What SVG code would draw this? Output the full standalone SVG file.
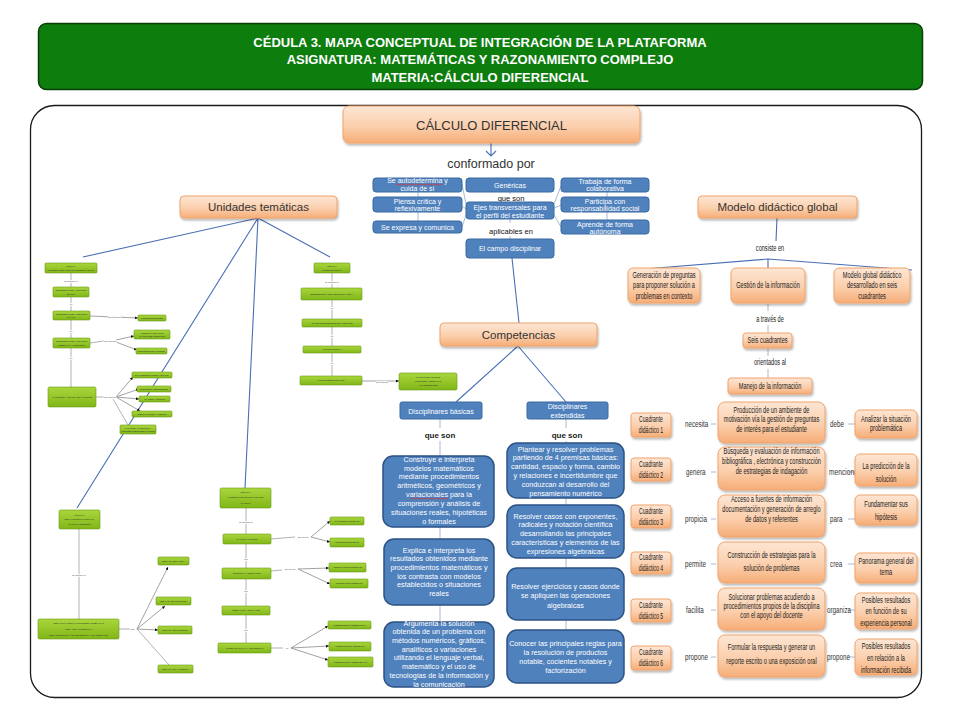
<svg xmlns="http://www.w3.org/2000/svg" width="960" height="720" viewBox="0 0 960 720">
<defs>
<linearGradient id="og" x1="0" y1="0" x2="0" y2="1"><stop offset="0" stop-color="#fde6d4"/><stop offset="0.55" stop-color="#fbcfad"/><stop offset="1" stop-color="#f6ad77"/></linearGradient>
<linearGradient id="gg" x1="0" y1="0" x2="0" y2="1"><stop offset="0" stop-color="#a9d63c"/><stop offset="1" stop-color="#80b618"/></linearGradient>
<filter id="sh" x="-10%" y="-15%" width="125%" height="150%"><feDropShadow dx="1" dy="2" stdDeviation="1.2" flood-color="#000" flood-opacity="0.28"/></filter>
<marker id="ah" viewBox="0 0 6 6" refX="6" refY="3" markerWidth="3" markerHeight="3" markerUnits="userSpaceOnUse" orient="auto"><path d="M0,0 L6,3 L0,6 z" fill="#111"/></marker>
<style>
.hd{font-family:"Liberation Sans",Arial,sans-serif;font-weight:bold;font-size:13px;fill:#fff;text-anchor:middle}
.ob{fill:url(#og);stroke:#f0a36b;stroke-width:1;filter:url(#sh)}
.ot{font-family:"Liberation Sans",Arial,sans-serif;fill:#333;text-anchor:middle}
.bs{fill:#4f81bd;stroke:#3b6aa0;stroke-width:1}
.bt{font-family:"Liberation Sans",Arial,sans-serif;fill:#fff;font-size:7px;text-anchor:middle}
.bl{fill:#4f81bd;stroke:#2c5286;stroke-width:1.5}
.b2{font-size:7.2px}
.gb{fill:url(#gg);stroke:#6a9a16;stroke-width:0.6}
.gt{font-family:"Liberation Sans",Arial,sans-serif;font-size:2px;fill:#2a2a2a;text-anchor:middle}
.tl{stroke:#a0a0a0;stroke-width:0.8;fill:none}
.ta{stroke:#8a8a8a;stroke-width:0.8;fill:none;marker-end:url(#ah)}
.ll{font-family:"Liberation Sans",Arial,sans-serif;font-size:2.3px;fill:#444;text-anchor:middle;stroke:#fff;stroke-width:1.4px;paint-order:stroke}
.cl{stroke:#4a6fb5;stroke-width:1.1;fill:none}
.gl{stroke:#a2b2cc;stroke-width:0.9;fill:none}
.rt{font-family:"Liberation Sans",Arial,sans-serif;font-size:8.5px;fill:#222;text-anchor:middle}
.ct{font-family:"Liberation Sans",Arial,sans-serif;font-size:8.5px;fill:#222;text-anchor:middle}
.rl{font-family:"Liberation Sans",Arial,sans-serif;font-size:9.5px;fill:#333}
.bk{font-family:"Liberation Sans",Arial,sans-serif;font-size:8px;font-weight:bold;fill:#222;text-anchor:middle}
.sm{font-family:"Liberation Sans",Arial,sans-serif;font-size:7.5px;fill:#111;text-anchor:middle}
.rd{stroke:#e03030;stroke-width:0.7;fill:none}
</style>
</defs>
<rect width="960" height="720" fill="#fff"/>

<g id="header">
<rect x="38.5" y="23.5" width="884" height="66" rx="8" fill="#0d7d0d" stroke="#0a3f0a" stroke-width="1.5"/>
<text class="hd" x="480" y="47">CÉDULA 3. MAPA CONCEPTUAL DE INTEGRACIÓN DE LA PLATAFORMA</text>
<text class="hd" x="480" y="64">ASIGNATURA: MATEMÁTICAS Y RAZONAMIENTO COMPLEJO</text>
<text class="hd" x="480" y="82">MATERIA:CÁLCULO DIFERENCIAL</text>
</g>

<rect id="frame" x="30.5" y="105.5" width="891" height="592" rx="24" fill="#fff" stroke="#1a1a1a" stroke-width="1.3"/>

<g id="connectors">
<path class="cl" d="M491,143 V156 M486,151 L491,156 L496,151"/>
<path class="cl" d="M258,218 L83,257 M258,218 L77,508 M258,218 L245,488 M258,218 L330,257"/>
<path class="gl" d="M418,192 V197 M418,212 V221 M607,192 V197 M607,212 V220 M510,192 V194 M510,219 V223 M510,236 V239"/>
<path class="gl" d="M462,184 L466,204 M462,206 L466,209 M462,227 L466,215 M561,186 L554,204 M561,205 L554,208 M561,227 L554,215"/>
<path class="cl" d="M512,258 L519,323"/>
<path class="cl" d="M518,346 L456,402 M518,346 L566,402"/>
<path class="gl" d="M440,419 V428 M440,441 V456 M440,527 V539 M440,605 V622 M566,419 V428 M566,441 V443 M566,498 V505 M566,558 V568 M566,620 V630"/>
<path class="cl" d="M777,218 L776,241 M768,259 L632,270 M768,259 L912,270 M768,259 V268"/>
<path class="gl" d="M768,302 V311 M768,325 V333 M768,348 V356 M768,369 V378"/>
<path class="gl" d="M711,424 H716 M711,472 H716 M711,519 H716 M711,564 H716 M711,610 H716 M711,657 H716 M848,424 H855 M848,472 H855 M848,519 H855 M848,564 H855 M848,610 H855 M848,657 H855"/>
<path class="tl" d="M71,273 V287 M71,297 V311 M71,320 V338 M71,348 V387"/>
<path class="ta" d="M90,316 L138,318"/>
<path class="tl" d="M90,343 L104,341"/>
<path class="ta" d="M116,340 L134,336"/>
<path class="ta" d="M116,342 L137,350"/>
<path class="tl" d="M96,397 L104,397"/>
<path class="ta" d="M116,397 L133,377"/>
<path class="ta" d="M116,397 L139,389"/>
<path class="ta" d="M116,397 L139,399"/>
<path class="ta" d="M116,397 L140,411"/>
<path class="tl" d="M113,399 L128,425"/>
<path class="tl" d="M79,529 V619 M119,629 H130"/>
<path class="ta" d="M137,629 L168,567"/>
<path class="ta" d="M137,629 L165,606"/>
<path class="ta" d="M137,629 L158,630"/>
<path class="tl" d="M137,629 L170,666"/>
<path class="tl" d="M246,508 V534 M246,544 V568 M246,579 V606 M246,615 V643 M271,539 L295,537 M271,571 L282,570 M271,648 L283,648"/>
<path class="ta" d="M311,537 L330,521"/>
<path class="ta" d="M311,537 L330,542"/>
<path class="ta" d="M298,569 L329,568"/>
<path class="ta" d="M298,569 L330,584"/>
<path class="ta" d="M291,648 L328,626"/>
<path class="ta" d="M291,648 L329,646"/>
<path class="ta" d="M291,648 L328,660"/>
<path class="tl" d="M332,273 V288 M332,300 V319 M332,327 V346 M332,353 V376"/>
<path class="ta" d="M362,381 L399,381"/>
</g>

<g id="calculo"><rect class="ob" x="343" y="106" width="297" height="37" rx="6"/><text class="ot" x="491.5" y="129.5" font-size="13">CÁLCULO DIFERENCIAL</text></g>
<text id="conformado" class="ot" x="491" y="167.5" font-size="12.5" fill="#222">conformado por</text>

<g id="autodetermina"><rect class="bs" x="373" y="178" width="89" height="14" rx="3"/><text class="bt" x="417.5" y="183">Se autodetermina y</text><text class="bt" x="417.5" y="190.5">cuida de sí</text><path class="rd" d="M396,184.6 q1,-1 2,0 t2,0 t2,0 t2,0 t2,0 t2,0 t2,0 t2,0 t2,0 t2,0 t2,0 t2,0 t2,0 t2,0 t2,0 t2,0 t2,0 t2,0 t2,0 t2,0 t2,0 t2,0 t2,0"/></g>
<g id="genericas"><rect class="bs" x="466" y="178" width="88" height="14" rx="3"/><text class="bt" x="510" y="187.5">Genéricas</text></g>
<g id="trabaja"><rect class="bs" x="561" y="178" width="88" height="14" rx="3"/><text class="bt" x="605" y="183.5">Trabaja de forma</text><text class="bt" x="605" y="191">colaborativa</text></g>
<g id="piensa"><rect class="bs" x="373" y="197" width="89" height="15" rx="3"/><text class="bt" x="417.5" y="203.5">Piensa crítica y</text><text class="bt" x="417.5" y="211">reflexivamente</text></g>
<text class="sm" x="511" y="200.5">que son</text>
<g id="ejes"><rect class="bs" x="466" y="202" width="88" height="17" rx="3"/><text class="bt" x="510" y="210">Ejes transversales para</text><text class="bt" x="510" y="218">el perfil del estudiante</text></g>
<g id="participa"><rect class="bs" x="561" y="197" width="88" height="15" rx="3"/><text class="bt" x="605" y="203.5">Participa con</text><text class="bt" x="605" y="211">responsabilidad social</text></g>
<g id="expresa"><rect class="bs" x="373" y="221" width="89" height="12" rx="3"/><text class="bt" x="417.5" y="229.5">Se expresa y comunica</text></g>
<g id="aprende"><rect class="bs" x="561" y="220" width="88" height="14" rx="3"/><text class="bt" x="605" y="226.5">Aprende de forma</text><text class="bt" x="605" y="234">autónoma</text></g>
<text class="sm" x="511" y="233.5">aplicables en</text>
<g id="campo"><rect class="bs" x="466" y="239" width="88" height="19" rx="3"/><text class="bt" x="510" y="251">El campo disciplinar</text></g>

<g id="unidades"><rect class="ob" x="180" y="196" width="157" height="22" rx="4"/><text class="ot" x="258.5" y="211" font-size="11.5">Unidades temáticas</text></g>
<g id="modelo"><rect class="ob" x="698" y="196" width="159" height="22" rx="4"/><text class="ot" x="777.5" y="211" font-size="11.5">Modelo didáctico global</text></g>
<g id="competencias"><rect class="ob" x="440" y="323" width="157" height="23" rx="4"/><text class="ot" x="518.5" y="338.5" font-size="11.5">Competencias</text></g>

<g id="basicas"><rect class="bs" x="400" y="402" width="82" height="17" rx="2"/><text class="bt" x="441" y="413.5">Disciplinares básicas</text></g>
<g id="extendidas"><rect class="bs" x="527" y="402" width="81" height="17" rx="2"/><text class="bt" x="567.5" y="409">Disciplinares</text><text class="bt" x="567.5" y="417.5">extendidas</text></g>
<text class="bk" x="440" y="437.5">que son</text>
<text class="bk" x="567" y="437.5">que son</text>

<g id="construye"><rect class="bl" x="383" y="456" width="111" height="71" rx="10"/>
<text class="bt b2" x="439" y="461.6">Construye e interpreta</text><text class="bt b2" x="439" y="470.5">modelos matemáticos</text><text class="bt b2" x="439" y="479.3">mediante procedimientos</text><text class="bt b2" x="439" y="488.2">aritméticos, geométricos y</text><text class="bt b2" x="439" y="497">variacionales para la</text><text class="bt b2" x="439" y="505.9">comprensión y análisis de</text><text class="bt b2" x="439" y="514.7">situaciones reales, hipotéticas</text><text class="bt b2" x="439" y="523.6">o formales</text>
<path class="rd" d="M410,498.6 q1,-1 2,0 t2,0 t2,0 t2,0 t2,0 t2,0 t2,0 t2,0 t2,0 t2,0 t2,0 t2,0 t2,0 t2,0 t2,0 t2,0 t2,0 t2,0 t2,0"/></g>
<g id="explica"><rect class="bl" x="384" y="539" width="110" height="66" rx="10"/>
<text class="bt b2" x="439" y="552.6">Explica e interpreta los</text><text class="bt b2" x="439" y="561.3">resultados obtenidos mediante</text><text class="bt b2" x="439" y="570">procedimientos matemáticos y</text><text class="bt b2" x="439" y="578.7">los contrasta con modelos</text><text class="bt b2" x="439" y="587.4">establecidos o situaciones</text><text class="bt b2" x="439" y="596.1">reales</text></g>
<g id="argumenta"><rect class="bl" x="384" y="622" width="110" height="65" rx="10"/>
<text class="bt b2" x="439" y="625.6">Argumenta la solución</text><text class="bt b2" x="439" y="634.3">obtenida de un problema con</text><text class="bt b2" x="439" y="643">métodos numéricos, gráficos,</text><text class="bt b2" x="439" y="651.7">analíticos o variaciones</text><text class="bt b2" x="439" y="660.4">utilizando el lenguaje verbal,</text><text class="bt b2" x="439" y="669.1">matemático y el uso de</text><text class="bt b2" x="439" y="677.8">tecnologías de la información y</text><text class="bt b2" x="439" y="686.5">la comunicación</text></g>
<g id="plantear"><rect class="bl" x="507" y="443" width="117" height="55" rx="10"/>
<text class="bt b2" x="565.5" y="451.6">Plantear y resolver problemas</text><text class="bt b2" x="565.5" y="460.4">partiendo de 4 premisas básicas:</text><text class="bt b2" x="565.5" y="469.2">cantidad, espacio y forma, cambio</text><text class="bt b2" x="565.5" y="478">y relaciones e incertidumbre que</text><text class="bt b2" x="565.5" y="486.8">conduzcan al desarrollo del</text><text class="bt b2" x="565.5" y="495.6">pensamiento numérico</text></g>
<g id="resolver1"><rect class="bl" x="507" y="505" width="117" height="53" rx="10"/>
<text class="bt b2" x="565.5" y="518.6">Resolver casos con exponentes,</text><text class="bt b2" x="565.5" y="527.4">radicales y notación científica</text><text class="bt b2" x="565.5" y="536.1">desarrollando las principales</text><text class="bt b2" x="565.5" y="544.9">características y elementos de las</text><text class="bt b2" x="565.5" y="553.6">expresiones algebraicas</text></g>
<g id="resolver2"><rect class="bl" x="507" y="568" width="117" height="52" rx="10"/>
<text class="bt b2" x="565.5" y="588.6">Resolver ejercicios y casos donde</text><text class="bt b2" x="565.5" y="598.1">se apliquen las operaciones</text><text class="bt b2" x="565.5" y="607.6">algebraicas</text></g>
<g id="conocer"><rect class="bl" x="507" y="630" width="117" height="53" rx="10"/>
<text class="bt b2" x="565.5" y="645.6">Conocer las principales reglas para</text><text class="bt b2" x="565.5" y="654.6">la resolución de productos</text><text class="bt b2" x="565.5" y="663.6">notable, cocientes notables y</text><text class="bt b2" x="565.5" y="672.6">factorización</text></g>

<g id="model-right">
<g transform="translate(770 0) scale(0.66 1)"><text class="rt" x="0" y="251" font-size="10">consiste en</text><text class="rt" x="0" y="322" font-size="10">a través de</text><text class="rt" x="0" y="365" font-size="10">orientados al</text></g>
<g id="generacion"><rect class="ob" x="628" y="268" width="72" height="35" rx="5"/><g transform="translate(664 0) scale(0.66 1)"><text class="rt" x="0" y="278">Generación de preguntas</text><text class="rt" x="0" y="288.5">para proponer solución a</text><text class="rt" x="0" y="299">problemas en contexto</text></g></g>
<g id="gestion"><rect class="ob" x="731" y="268" width="74" height="35" rx="5"/><g transform="translate(768 0) scale(0.66 1)"><text class="rt" x="0" y="288.5">Gestión de la información</text></g></g>
<g id="modeloglobal"><rect class="ob" x="834" y="268" width="76" height="35" rx="5"/><g transform="translate(872 0) scale(0.66 1)"><text class="rt" x="0" y="278">Modelo global didáctico</text><text class="rt" x="0" y="288.5">desarrollado en seis</text><text class="rt" x="0" y="299">cuadrantes</text></g></g>
<g id="seis"><rect class="ob" x="743" y="333" width="49" height="15" rx="3"/><g transform="translate(767.5 0) scale(0.66 1)"><text class="rt" x="0" y="343.5">Seis cuadrantes</text></g></g>
<g id="manejo"><rect class="ob" x="728" y="378" width="84" height="16" rx="3"/><g transform="translate(770 0) scale(0.66 1)"><text class="rt" x="0" y="389">Manejo de la información</text></g></g>
</g>

<g id="cuadrantes">
<g id="c1"><rect class="ob" x="631" y="413" width="40" height="24" rx="3"/><g transform="translate(651 0) scale(0.6 1)"><text class="ct" x="0" y="422.5">Cuadrante</text><text class="ct" x="0" y="433.5">didáctico 1</text></g></g>
<g id="c2"><rect class="ob" x="631" y="458" width="40" height="23" rx="3"/><g transform="translate(651 0) scale(0.6 1)"><text class="ct" x="0" y="467">Cuadrante</text><text class="ct" x="0" y="478">didáctico 2</text></g></g>
<g id="c3"><rect class="ob" x="631" y="505" width="40" height="23" rx="3"/><g transform="translate(651 0) scale(0.6 1)"><text class="ct" x="0" y="514">Cuadrante</text><text class="ct" x="0" y="525">didáctico 3</text></g></g>
<g id="c4"><rect class="ob" x="631" y="552" width="40" height="22" rx="3"/><g transform="translate(651 0) scale(0.6 1)"><text class="ct" x="0" y="560.5">Cuadrante</text><text class="ct" x="0" y="571.5">didáctico 4</text></g></g>
<g id="c5"><rect class="ob" x="631" y="599" width="40" height="23" rx="3"/><g transform="translate(651 0) scale(0.6 1)"><text class="ct" x="0" y="608">Cuadrante</text><text class="ct" x="0" y="619">didáctico 5</text></g></g>
<g id="c6"><rect class="ob" x="631" y="646" width="40" height="24" rx="3"/><g transform="translate(651 0) scale(0.6 1)"><text class="ct" x="0" y="655.5">Cuadrante</text><text class="ct" x="0" y="666.5">didáctico 6</text></g></g>

<text class="rl" transform="translate(685 427) scale(0.66 1)">necesita</text>
<text class="rl" transform="translate(686 475) scale(0.66 1)">genera</text>
<text class="rl" transform="translate(685 522) scale(0.66 1)">propicia</text>
<text class="rl" transform="translate(685 567) scale(0.66 1)">permite</text>
<text class="rl" transform="translate(686 613) scale(0.66 1)">facilita</text>
<text class="rl" transform="translate(685 660) scale(0.66 1)">propone</text>
<text class="rl" transform="translate(830 427) scale(0.66 1)">debe</text>
<text class="rl" transform="translate(829 475) scale(0.7 1)">menciona</text>
<text class="rl" transform="translate(830 522) scale(0.66 1)">para</text>
<text class="rl" transform="translate(830 567) scale(0.66 1)">crea</text>
<text class="rl" transform="translate(827 613) scale(0.66 1)">organiza</text>
<text class="rl" transform="translate(827 660) scale(0.66 1)">propone</text>

<g id="m1"><rect class="ob" x="718" y="402" width="107" height="41" rx="7"/><g transform="translate(771.5 0) scale(0.66 1)"><text class="rt" x="0" y="413">Producción de un ambiente de</text><text class="rt" x="0" y="422.5">motivación vía la gestión de preguntas</text><text class="rt" x="0" y="432">de interés para el estudiante</text></g></g>
<g id="m2"><rect class="ob" x="718" y="447" width="107" height="43" rx="7"/><g transform="translate(771.5 0) scale(0.66 1)"><text class="rt" x="0" y="454">Búsqueda y evaluación de información</text><text class="rt" x="0" y="464">bibliográfica , electrónica y construcción</text><text class="rt" x="0" y="474">de estrategias de indagación</text></g></g>
<g id="m3"><rect class="ob" x="718" y="495" width="107" height="42" rx="7"/><g transform="translate(771.5 0) scale(0.66 1)"><text class="rt" x="0" y="502">Acceso a fuentes de información</text><text class="rt" x="0" y="512">documentación y generación de arreglo</text><text class="rt" x="0" y="522">de datos y referentes</text></g></g>
<g id="m4"><rect class="ob" x="718" y="542" width="107" height="41" rx="7"/><g transform="translate(771.5 0) scale(0.66 1)"><text class="rt" x="0" y="558">Construcción de estrategias para la</text><text class="rt" x="0" y="571">solución de problemas</text></g></g>
<g id="m5"><rect class="ob" x="718" y="588" width="107" height="42" rx="7"/><g transform="translate(771.5 0) scale(0.66 1)"><text class="rt" x="0" y="600">Solucionar problemas acudiendo a</text><text class="rt" x="0" y="609">procedimientos propios de la disciplina</text><text class="rt" x="0" y="618">con el apoyo del docente</text></g></g>
<g id="m6"><rect class="ob" x="718" y="635" width="107" height="42" rx="7"/><g transform="translate(771.5 0) scale(0.66 1)"><text class="rt" x="0" y="650">Formular la respuesta y generar un</text><text class="rt" x="0" y="664">reporte escrito o una exposición oral</text></g></g>

<g id="r1"><rect class="ob" x="855" y="410" width="62" height="28" rx="5"/><g transform="translate(886 0) scale(0.66 1)"><text class="rt" x="0" y="422">Analizar la situación</text><text class="rt" x="0" y="431.5">problemática</text></g></g>
<g id="r2"><rect class="ob" x="855" y="454" width="62" height="32" rx="5"/><g transform="translate(886 0) scale(0.66 1)"><text class="rt" x="0" y="469">La predicción de la</text><text class="rt" x="0" y="482">solución</text></g></g>
<g id="r3"><rect class="ob" x="855" y="495" width="62" height="30" rx="5"/><g transform="translate(886 0) scale(0.66 1)"><text class="rt" x="0" y="507">Fundamentar sus</text><text class="rt" x="0" y="520">hipótesis</text></g></g>
<g id="r4"><rect class="ob" x="855" y="553" width="62" height="30" rx="5"/><g transform="translate(886 0) scale(0.66 1)"><text class="rt" x="0" y="564">Panorama general del</text><text class="rt" x="0" y="575">tema</text></g></g>
<g id="r5"><rect class="ob" x="855" y="593" width="62" height="36" rx="5"/><g transform="translate(886 0) scale(0.66 1)"><text class="rt" x="0" y="603">Posibles resultados</text><text class="rt" x="0" y="614.5">en función de su</text><text class="rt" x="0" y="626">experiencia personal</text></g></g>
<g id="r6"><rect class="ob" x="855" y="639" width="62" height="36" rx="5"/><g transform="translate(886 0) scale(0.66 1)"><text class="rt" x="0" y="649">Posibles resultados</text><text class="rt" x="0" y="661">en relación a la</text><text class="rt" x="0" y="673">información recibida</text></g></g>
</g>

<g id="tree-labels">
<text class="ll" x="71" y="282">se articula en</text><text class="ll" x="71" y="305">en</text><text class="ll" x="71" y="332">en</text><text class="ll" x="71" y="359">en</text>
<text class="ll" x="114" y="318">que derivan</text><text class="ll" x="110" y="342">que derivan</text><text class="ll" x="110" y="398">que derivan</text>
<text class="ll" x="79" y="576">se articula en</text><text class="ll" x="133" y="630">son</text>
<text class="ll" x="246" y="523">se articula en</text><text class="ll" x="246" y="560">con</text><text class="ll" x="246" y="592">con</text><text class="ll" x="246" y="631">con</text>
<text class="ll" x="303" y="538">que deriva</text><text class="ll" x="290" y="570">que deriva</text><text class="ll" x="287" y="649">en</text>
<text class="ll" x="332" y="283">se articula en</text><text class="ll" x="332" y="309">en</text><text class="ll" x="332" y="337">en</text><text class="ll" x="332" y="364">en</text><text class="ll" x="382" y="383">que derivan</text>
</g>

<g id="u1"><rect class="gb" x="45" y="263" width="52" height="10" rx="1"/><text class="gt" x="71" y="267.3">UNIDAD I</text><text class="gt" x="71" y="270.6">PROBLEMAS DE APROXIMACIÓN DEL CÁLCULO</text></g>
<g id="u1a"><rect class="gb" x="53" y="287" width="36" height="10" rx="1"/><text class="gt" x="71" y="291.3">REPRESENTACIÓN Y SOLUCIÓN</text><text class="gt" x="71" y="294.6">GRÁFICA</text></g>
<g id="u1b"><rect class="gb" x="53" y="311" width="37" height="9" rx="1"/><text class="gt" x="71.5" y="314.8">REPRESENTACIÓN Y SOLUCIÓN</text><text class="gt" x="71.5" y="318">GRÁFICA</text></g>
<g id="u1b1"><rect class="gb" x="138" y="315" width="28" height="6" rx="1"/><text class="gt" x="152" y="318.7">TIPOS DE FUNCIONES</text></g>
<g id="u1c"><rect class="gb" x="53" y="338" width="37" height="10" rx="1"/><text class="gt" x="71.5" y="342.3">REPRESENTACIÓN Y SOLUCIÓN</text><text class="gt" x="71.5" y="345.6">ALGEBRAICA Y ALGORÍTMICA</text></g>
<g id="u1c1"><rect class="gb" x="134" y="330" width="36" height="9" rx="1"/><text class="gt" x="152" y="333.8">MODELO MATEMÁTICO</text><text class="gt" x="152" y="337">CÁLCULO DE CONTEXTOS</text></g>
<g id="u1c2"><rect class="gb" x="136" y="348" width="31" height="6" rx="1"/><text class="gt" x="151.5" y="351.7">DOMINIO DE UNA FUNCIÓN</text></g>
<g id="u1d"><rect class="gb" x="48" y="387" width="48" height="20" rx="1.5"/><text class="gt" x="72" y="397.7" font-size="1.8">ANÁLISIS DE LA GRÁFICA DE LA FUNCIÓN</text></g>
<g id="u1d1"><rect class="gb" x="132" y="372" width="40" height="6" rx="1"/><text class="gt" x="152" y="375.7">CARACTERÍSTICAS DE LA GRÁFICA</text></g>
<g id="u1d2"><rect class="gb" x="137" y="386" width="34" height="6" rx="1"/><text class="gt" x="154" y="389.7">CRECIENTE Y DECRECIENTE</text></g>
<g id="u1d3"><rect class="gb" x="139" y="396" width="31" height="6" rx="1"/><text class="gt" x="154.5" y="399.7">MÁXIMOS Y MÍNIMOS</text></g>
<g id="u1d4"><rect class="gb" x="132" y="411" width="40" height="6" rx="1"/><text class="gt" x="152" y="414.7">CONCAVIDAD DE LA FUNCIÓN</text></g>
<g id="u1d5"><rect class="gb" x="120" y="425" width="36" height="9" rx="1"/><text class="gt" x="138" y="428.8">VARIACIÓN A PARTIR DE LA</text><text class="gt" x="138" y="432">COMPORTAMIENTO DEL CÁLCULO</text></g>

<g id="u3"><rect class="gb" x="59" y="510" width="41" height="19" rx="1.5"/><text class="gt" x="79.5" y="515.5">UNIDAD III</text><text class="gt" x="79.5" y="520.3">REGLAS DE DERIVACIÓN PARA</text><text class="gt" x="79.5" y="525.3">PRÁCTICA PENDIENTE</text></g>
<g id="u3a"><rect class="gb" x="38" y="619" width="81" height="20" rx="1.5"/><text class="gt" x="78.5" y="623.8">REGLAS PARA DERIVAR FUNCIONES ALGEBRAICAS</text><text class="gt" x="78.5" y="629.7">REGLA DE LAS POTENCIAS</text><text class="gt" x="78.5" y="635.5">DERIVACIÓN DE UNA VARIABLE ELEVADA A UNA CONSTANTE</text></g>
<g id="u3b"><rect class="gb" x="158" y="557" width="31" height="8" rx="1"/><text class="gt" x="173.5" y="561.7">DERIVADA DE LA SUMA</text></g>
<g id="u3c"><rect class="gb" x="156" y="597" width="35" height="8" rx="1"/><text class="gt" x="173.5" y="601.7">DERIVADA DEL PRODUCTO</text></g>
<g id="u3d"><rect class="gb" x="158" y="626" width="34" height="8" rx="1"/><text class="gt" x="175" y="630.7">DERIVADA DEL COCIENTE</text></g>
<g id="u3e"><rect class="gb" x="158" y="665" width="35" height="8" rx="1"/><text class="gt" x="175.5" y="669.7">DERIVADA DE LA POTENCIA</text></g>

<g id="u4"><rect class="gb" x="220" y="488" width="51" height="20" rx="1.5"/><text class="gt" x="245.5" y="493">UNIDAD IV</text><text class="gt" x="245.5" y="498.3">PROBLEMAS DE OPTIMIZACIÓN CON</text><text class="gt" x="245.5" y="503.8">CÁLCULO</text></g>
<g id="u4a"><rect class="gb" x="223" y="534" width="48" height="10" rx="1"/><text class="gt" x="247" y="539.7">MÁXIMOS Y MÍNIMOS</text></g>
<g id="u4a1"><rect class="gb" x="330" y="517" width="34" height="8" rx="1"/><text class="gt" x="347" y="521.7">MÁXIMOS EN CONTEXTO</text></g>
<g id="u4a2"><rect class="gb" x="330" y="538" width="34" height="9" rx="1"/><text class="gt" x="347" y="543.2">MÍNIMOS EN CONTEXTO</text></g>
<g id="u4b"><rect class="gb" x="222" y="568" width="49" height="11" rx="1"/><text class="gt" x="246.5" y="574.2">VELOCIDAD Y ACELERACIÓN</text></g>
<g id="u4b1"><rect class="gb" x="329" y="563" width="37" height="9" rx="1"/><text class="gt" x="347.5" y="568.2">ACELERACIÓN EN CONTEXTO</text></g>
<g id="u4b2"><rect class="gb" x="330" y="579" width="38" height="9" rx="1"/><text class="gt" x="349" y="584.2">VELOCIDAD EN CONTEXTO</text></g>
<g id="u4c"><rect class="gb" x="222" y="606" width="48" height="9" rx="1"/><text class="gt" x="246" y="611.2">MODELACIÓN Y SIMULACIÓN</text></g>
<g id="u4d"><rect class="gb" x="218" y="643" width="53" height="10" rx="1"/><text class="gt" x="244.5" y="648.7">MATEMÁTICAS PARA LA UNIVERSIDAD</text></g>
<g id="u4d1"><rect class="gb" x="328" y="621" width="43" height="8" rx="1"/><text class="gt" x="349.5" y="625.7">MODELOS DE EXÁMENES UNAM</text></g>
<g id="u4d2"><rect class="gb" x="329" y="642" width="42" height="9" rx="1"/><text class="gt" x="350" y="647.2">MODELOS DE EXÁMENES IPN</text></g>
<g id="u4d3"><rect class="gb" x="328" y="657" width="45" height="10" rx="1"/><text class="gt" x="350.5" y="662.7">MODELOS DE EXÁMENES DE UAM</text></g>

<g id="u5"><rect class="gb" x="314" y="263" width="36" height="10" rx="1"/><text class="gt" x="332" y="267.3">UNIDAD V</text><text class="gt" x="332" y="270.6">LÍMITES DE FERMAT</text></g>
<g id="u5a"><rect class="gb" x="301" y="288" width="61" height="12" rx="1"/><text class="gt" x="331.5" y="294.7">PENDIENTE DE LA SECANTE EN UNA CURVA</text></g>
<g id="u5b"><rect class="gb" x="302" y="319" width="60" height="8" rx="1"/><text class="gt" x="332" y="323.7">CÁLCULO DE PENDIENTE DE LA SECANTE</text></g>
<g id="u5c"><rect class="gb" x="303" y="346" width="58" height="7" rx="1"/><text class="gt" x="332" y="350.2">LÍMITE DE FERMAT</text></g>
<g id="u5d"><rect class="gb" x="300" y="376" width="62" height="9" rx="1"/><text class="gt" x="331" y="381.2">LÍMITES INDETERMINADOS</text></g>
<g id="u5e"><rect class="gb" x="399" y="373" width="58" height="17" rx="1.5"/><text class="gt" x="428" y="378.3">CÁLCULO DEL LÍMITE DE</text><text class="gt" x="428" y="382.3">FUNCIONES ALGEBRAICAS</text><text class="gt" x="428" y="386.3">Y TRASCENDENTES</text></g>
</svg>
